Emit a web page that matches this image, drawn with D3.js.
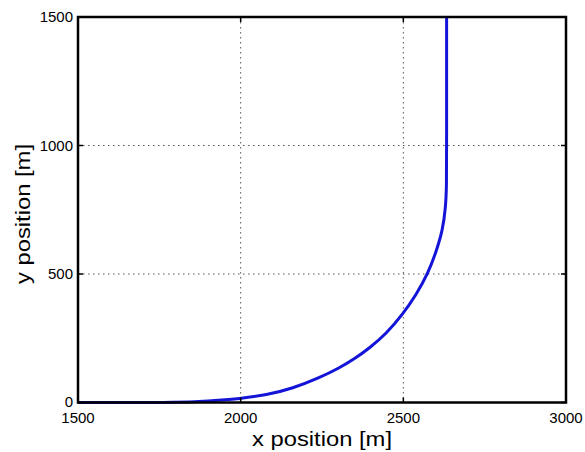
<!DOCTYPE html>
<html><head><meta charset="utf-8">
<script src="https://cdn.jsdelivr.net/npm/d3@7"></script>
<style>body{margin:0;background:#fff}</style>
</head><body>
<svg id="c" width="585" height="452"></svg>
<script>
const xTicks = [1500, 2000, 2500, 3000];
const yTicks = [0, 500, 1000, 1500];
const xVals = [1500,1800,1860,1915,1997,2079,2160,2242,2304,2350,2396,2447,2498,2539,2575,2600,2621,2630,2633,2633,2633];
const yVals = [0,0,2,7,15,29,55,96,135,170,212,267,343,418,500,583,670,760,840,1000,1500];

const svg = d3.select("#c");
const L = 78, R = 566, T = 17, B = 402.5;
const x = d3.scaleLinear().domain([1500, 3000]).range([L, R]);
const y = d3.scaleLinear().domain([0, 1500]).range([B, T]);
const font = "Liberation Sans, Arial, sans-serif";

// grid
const g = svg.append("g");
xTicks.slice(1, -1).forEach(t => g.append("line").attr("x1", x(t)).attr("x2", x(t)).attr("y1", T).attr("y2", B)
  .attr("stroke", "#555").attr("stroke-width", 1).attr("stroke-dasharray", "1.5,3.5"));
yTicks.slice(1, -1).forEach(t => g.append("line").attr("y1", y(t)).attr("y2", y(t)).attr("x1", L).attr("x2", R)
  .attr("stroke", "#555").attr("stroke-width", 1).attr("stroke-dasharray", "1.5,3.5"));

// curve
const pts = xVals.map((v, i) => [v, yVals[i]]);
svg.append("path").datum(pts)
  .attr("d", d3.line().x(d => x(d[0])).y(d => y(d[1])).curve(d3.curveBasis))
  .attr("fill", "none").attr("stroke", "#1414d8").attr("stroke-width", 3);

// ticks inward
const tl = 5;
xTicks.forEach(t => {
  svg.append("line").attr("x1", x(t)).attr("x2", x(t)).attr("y1", B).attr("y2", B - tl).attr("stroke", "#000").attr("stroke-width", 1.5);
  svg.append("line").attr("x1", x(t)).attr("x2", x(t)).attr("y1", T).attr("y2", T + tl).attr("stroke", "#000").attr("stroke-width", 1.5);
  svg.append("text").attr("x", x(t)).attr("y", 423).attr("text-anchor", "middle")
    .attr("font-family", font).attr("font-size", 15).text(t);
});
yTicks.forEach(t => {
  svg.append("line").attr("y1", y(t)).attr("y2", y(t)).attr("x1", L).attr("x2", L + tl).attr("stroke", "#000").attr("stroke-width", 1.5);
  svg.append("line").attr("y1", y(t)).attr("y2", y(t)).attr("x1", R).attr("x2", R - tl).attr("stroke", "#000").attr("stroke-width", 1.5);
  svg.append("text").attr("x", 73).attr("y", y(t) + (t === 0 ? 4 : 5)).attr("text-anchor", "end")
    .attr("font-family", font).attr("font-size", 15).text(t);
});

// frame
svg.append("rect").attr("x", L).attr("y", T).attr("width", R - L).attr("height", B - T)
  .attr("fill", "none").attr("stroke", "#000").attr("stroke-width", 2.5);

// titles
svg.append("text").attr("x", 322).attr("y", 446).attr("text-anchor", "middle")
  .attr("font-family", font).attr("font-size", 21)
  .attr("textLength", 140).attr("lengthAdjust", "spacingAndGlyphs").text("x position [m]");
svg.append("text").attr("transform", `translate(30,214) rotate(-90)`).attr("text-anchor", "middle")
  .attr("font-family", font).attr("font-size", 21)
  .attr("textLength", 140).attr("lengthAdjust", "spacingAndGlyphs").text("y position [m]");
</script>
</body></html>
